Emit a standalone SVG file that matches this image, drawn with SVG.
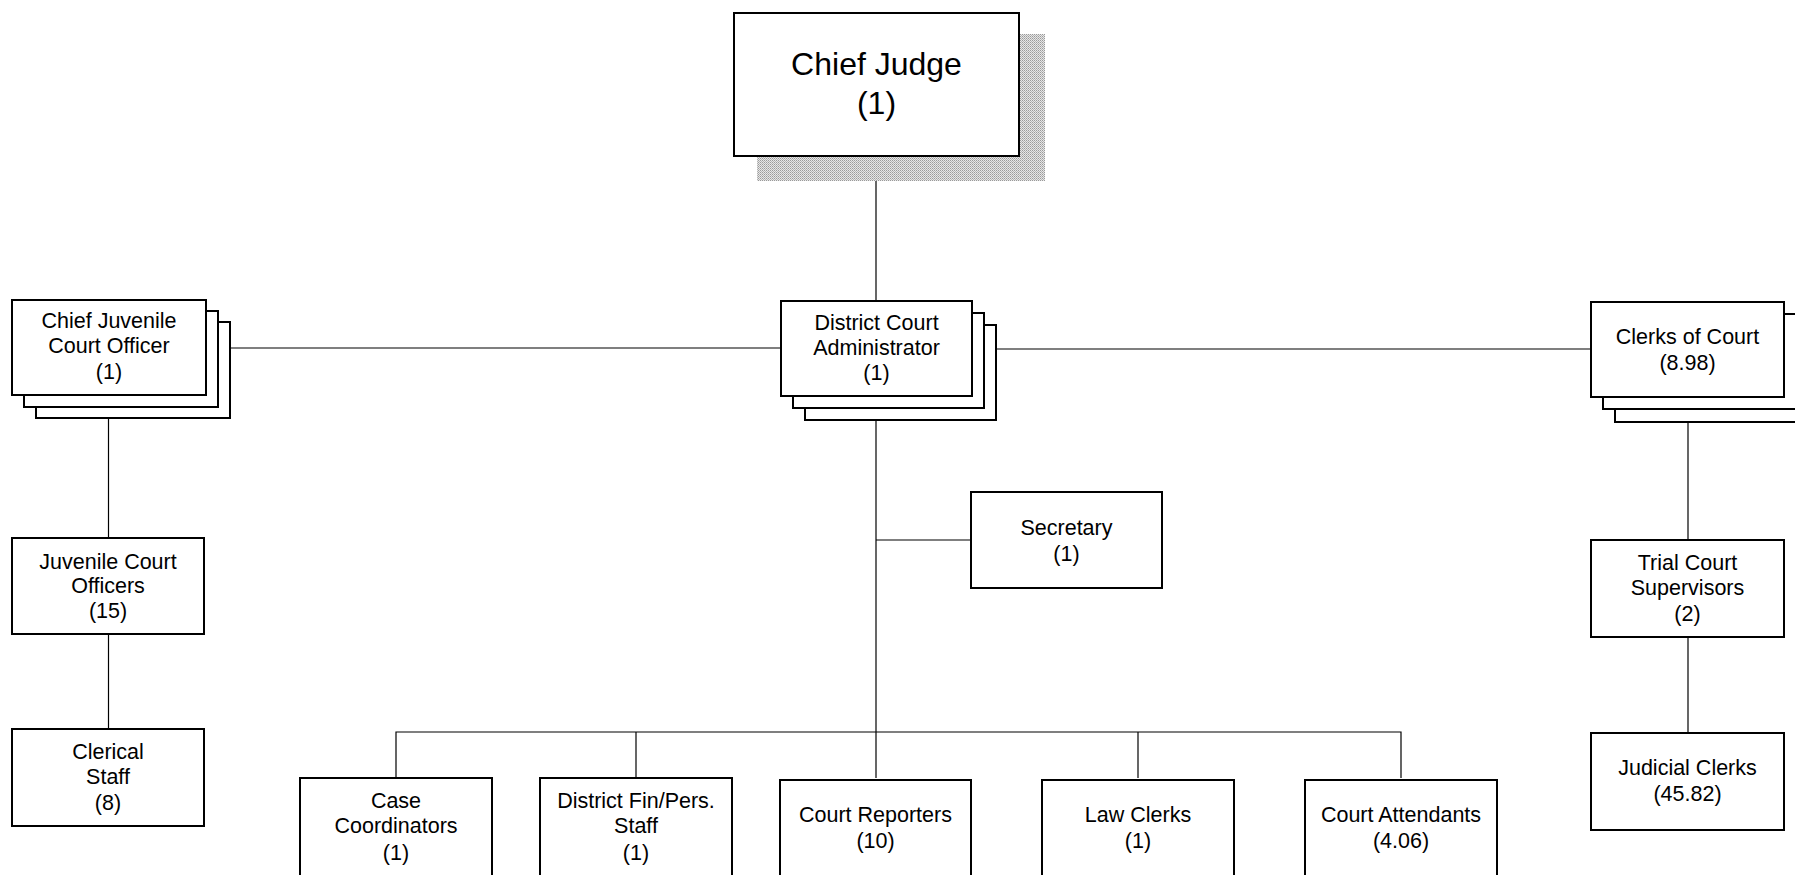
<svg xmlns="http://www.w3.org/2000/svg" width="1795" height="875" viewBox="0 0 1795 875">
<style>
.box{fill:#fff;stroke:#000;stroke-width:2}
.conn{stroke:#000;stroke-width:1.2;fill:none}
text{font-family:"Liberation Sans",Arial,sans-serif;font-size:21.5px;fill:#000;text-anchor:middle}
.big{font-size:32px}
</style>
<defs>
<pattern id="dither" width="2" height="2" patternUnits="userSpaceOnUse">
<rect width="2" height="2" fill="#e6e6e6"/>
<rect width="1" height="1" fill="#9a9a9a"/>
<rect x="1" y="1" width="1" height="1" fill="#b5b5b5"/>
</pattern>
</defs>
<rect width="1795" height="875" fill="#fff"/>
<g id="connectors">
<line class="conn" x1="876" y1="156" x2="876" y2="301"/>
<line class="conn" x1="206" y1="348" x2="781" y2="348"/>
<line class="conn" x1="971" y1="349" x2="1591" y2="349"/>
<line class="conn" x1="876" y1="396" x2="876" y2="778"/>
<line class="conn" x1="876" y1="540" x2="971" y2="540"/>
<line class="conn" x1="108.5" y1="395" x2="108.5" y2="538"/>
<line class="conn" x1="108.5" y1="634" x2="108.5" y2="729"/>
<line class="conn" x1="1688" y1="397" x2="1688" y2="540"/>
<line class="conn" x1="1688" y1="637" x2="1688" y2="733"/>
<polyline class="conn" points="396,778 396,732 1401,732 1401,778"/>
<line class="conn" x1="636" y1="732" x2="636" y2="778"/>
<line class="conn" x1="1138" y1="732" x2="1138" y2="778"/>
</g>
<g id="chief-judge">
<rect x="757" y="34" width="288" height="147" fill="url(#dither)"/>
<rect class="box" x="734" y="13" width="285" height="143"/>
<text class="big" x="876.5" y="75">Chief Judge</text>
<text class="big" x="876.5" y="114">(1)</text>
</g>
<g id="chief-juvenile-court-officer">
<rect class="box" x="36" y="322" width="194" height="96"/>
<rect class="box" x="24" y="311" width="194" height="96"/>
<rect class="box" x="12" y="300" width="194" height="95"/>
<text x="109" y="328">Chief Juvenile</text>
<text x="109" y="353">Court Officer</text>
<text x="109" y="379">(1)</text>
</g>
<g id="district-court-administrator">
<rect class="box" x="805" y="325" width="191" height="95"/>
<rect class="box" x="793" y="313" width="191" height="95"/>
<rect class="box" x="781" y="301" width="191" height="95"/>
<text x="876.5" y="330">District Court</text>
<text x="876.5" y="355">Administrator</text>
<text x="876.5" y="380">(1)</text>
</g>
<g id="clerks-of-court">
<rect class="box" x="1615" y="326" width="200" height="96"/>
<rect class="box" x="1603" y="314" width="200" height="95"/>
<rect class="box" x="1591" y="302" width="193" height="95"/>
<text x="1687.5" y="344">Clerks of Court</text>
<text x="1687.5" y="370">(8.98)</text>
</g>
<g id="secretary">
<rect class="box" x="971" y="492" width="191" height="96"/>
<text x="1066.5" y="535">Secretary</text>
<text x="1066.5" y="561">(1)</text>
</g>
<g id="juvenile-court-officers">
<rect class="box" x="12" y="538" width="192" height="96"/>
<text x="108" y="569">Juvenile Court</text>
<text x="108" y="593">Officers</text>
<text x="108" y="618">(15)</text>
</g>
<g id="clerical-staff">
<rect class="box" x="12" y="729" width="192" height="97"/>
<text x="108" y="759">Clerical</text>
<text x="108" y="784">Staff</text>
<text x="108" y="810">(8)</text>
</g>
<g id="trial-court-supervisors">
<rect class="box" x="1591" y="540" width="193" height="97"/>
<text x="1687.5" y="570">Trial Court</text>
<text x="1687.5" y="595">Supervisors</text>
<text x="1687.5" y="621">(2)</text>
</g>
<g id="judicial-clerks">
<rect class="box" x="1591" y="733" width="193" height="97"/>
<text x="1687.5" y="775">Judicial Clerks</text>
<text x="1687.5" y="801">(45.82)</text>
</g>
<g id="case-coordinators">
<rect class="box" x="300" y="778" width="192" height="120"/>
<text x="396" y="808">Case</text>
<text x="396" y="833">Coordinators</text>
<text x="396" y="860">(1)</text>
</g>
<g id="district-fin-pers-staff">
<rect class="box" x="540" y="778" width="192" height="120"/>
<text x="636" y="808">District Fin/Pers.</text>
<text x="636" y="833">Staff</text>
<text x="636" y="860">(1)</text>
</g>
<g id="court-reporters">
<rect class="box" x="780" y="780" width="191" height="120"/>
<text x="875.5" y="822">Court Reporters</text>
<text x="875.5" y="848">(10)</text>
</g>
<g id="law-clerks">
<rect class="box" x="1042" y="780" width="192" height="120"/>
<text x="1138" y="822">Law Clerks</text>
<text x="1138" y="848">(1)</text>
</g>
<g id="court-attendants">
<rect class="box" x="1305" y="780" width="192" height="120"/>
<text x="1401" y="822">Court Attendants</text>
<text x="1401" y="848">(4.06)</text>
</g>
</svg>
